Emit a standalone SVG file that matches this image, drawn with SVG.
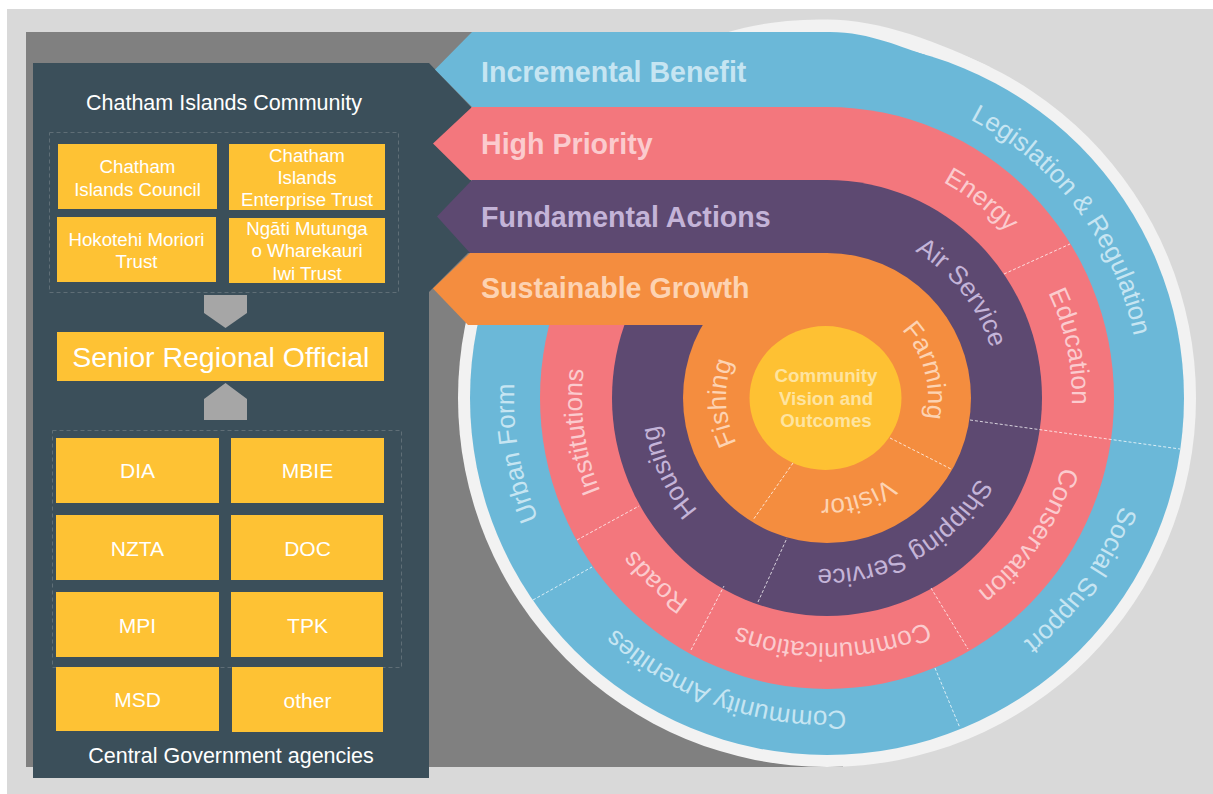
<svg xmlns="http://www.w3.org/2000/svg" width="1213" height="794" viewBox="0 0 1213 794">
<style>
text{font-family:"Liberation Sans",Arial,sans-serif}
.box{fill:#fec234}
.bt{fill:#fff;font-size:18.7px;text-anchor:middle}
.ag{fill:#fff;font-size:21px;text-anchor:middle}
.hd{fill:#fff;font-size:21.5px;text-anchor:middle}
.dash{fill:none;stroke:#5f6e76;stroke-width:1;stroke-dasharray:4 3}
.bn{font-size:28.6px;font-weight:bold}
.rl{font-size:26px;text-anchor:middle}
.sep{fill:none;stroke:#fff;stroke-opacity:.75;stroke-width:1;stroke-dasharray:3 2}
.arr{fill:#a6a6a6}
</style>
<defs>
<path id="pBlue" d="M827,85 A313,313 0 1,1 827,711 A313,313 0 1,1 827,85"/>
<path id="pPink" d="M827,153 A245,245 0 1,1 827,643 A245,245 0 1,1 827,153"/>
<path id="pPurple" d="M827,227 A171,171 0 1,1 827,569 A171,171 0 1,1 827,227"/>
<path id="pOrange" d="M827,297 A101,101 0 1,1 827,499 A101,101 0 1,1 827,297"/>
</defs>

<g id="background">
<rect x="7" y="9" width="1206" height="785" fill="#d9d9d9"/>
<rect x="26" y="32" width="817" height="735" fill="#808080"/>
</g>

<g id="wheel">
<circle cx="827" cy="398" r="369" fill="#f2f2f2"/>
<path d="M725,33 C760,22 795,19.5 827,19.5 C880,19.5 940,42.5 990,67 L990,110 L725,110 Z" fill="#f2f2f2"/>
<circle cx="827" cy="398" r="357" fill="#6bb8d8"/>
<ellipse cx="827" cy="398" rx="287" ry="291" fill="#f3777d"/>
<ellipse cx="827" cy="398" rx="215" ry="218" fill="#5d4971"/>
<ellipse cx="827" cy="398" rx="144" ry="145" fill="#f48d3f"/>
<ellipse cx="825.5" cy="398" rx="76" ry="72" fill="#fec133"/>
</g>

<g id="separators">
<line class="sep" x1="970" y1="420" x2="1180" y2="449"/>
<line class="sep" x1="1004" y1="274" x2="1070" y2="244"/>
<line class="sep" x1="931" y1="588" x2="968" y2="649"/>
<line class="sep" x1="935" y1="668" x2="960" y2="728"/>
<line class="sep" x1="691" y1="650" x2="724" y2="586"/>
<line class="sep" x1="577" y1="540" x2="639" y2="506"/>
<line class="sep" x1="533" y1="600" x2="592" y2="567"/>
<line class="sep" x1="758" y1="602" x2="787" y2="538"/>
<line class="sep" x1="890" y1="438" x2="951" y2="469"/>
<line class="sep" x1="793" y1="463" x2="753" y2="520"/>
</g>

<g id="ring-labels">
<text class="rl" fill="#c6e5f2"><textPath href="#pBlue" startOffset="288.7">Legislation &amp; Regulation</textPath></text>
<text class="rl" fill="#c6e5f2"><textPath href="#pBlue" startOffset="686.1">Social Support</textPath></text>
<text class="rl" fill="#c6e5f2"><textPath href="#pBlue" startOffset="1089.6">Community Amenities</textPath></text>
<text class="rl" fill="#c6e5f2"><textPath href="#pBlue" startOffset="1419.5">Urban Form</textPath></text>
<text class="rl" fill="#fbcbce"><textPath href="#pPink" startOffset="161.9">Energy</textPath></text>
<text class="rl" fill="#fbcbce"><textPath href="#pPink" startOffset="333.5">Education</textPath></text>
<text class="rl" fill="#fbcbce"><textPath href="#pPink" startOffset="530.9">Conservation</textPath></text>
<text class="rl" fill="#fbcbce"><textPath href="#pPink" startOffset="763.7">Communications</textPath></text>
<text class="rl" fill="#fbcbce"><textPath href="#pPink" startOffset="953.4">Roads</textPath></text>
<text class="rl" fill="#fbcbce"><textPath href="#pPink" startOffset="1120.6">Institutions</textPath></text>
<text class="rl" fill="#c4b4d8"><textPath href="#pPurple" startOffset="155">Air Service</textPath></text>
<text class="rl" fill="#c4b4d8"><textPath href="#pPurple" startOffset="449">Shipping Service</textPath></text>
<text class="rl" fill="#c4b4d8"><textPath href="#pPurple" startOffset="730.8">Housing</textPath></text>
<text class="rl" fill="#fdd3b2"><textPath href="#pOrange" startOffset="131.3">Farming</textPath></text>
<text class="rl" fill="#fdd3b2"><textPath href="#pOrange" startOffset="286.5">Visitor</textPath></text>
<text class="rl" fill="#fdd3b2"><textPath href="#pOrange" startOffset="470.3">Fishing</textPath></text>
</g>

<g id="center">
<text x="826" y="381.7" fill="#fee4a0" font-size="18.7" font-weight="bold" text-anchor="middle">Community</text>
<text x="826" y="405" fill="#fee4a0" font-size="18.7" font-weight="bold" text-anchor="middle">Vision and</text>
<text x="826" y="427.3" fill="#fee4a0" font-size="18.7" font-weight="bold" text-anchor="middle">Outcomes</text>
</g>

<g id="panel">
<polygon points="33,63 429,63 471,107 471,253 468,253 429,292 429,778 33,778" fill="#3b4f5a"/>
<text class="hd" x="224" y="110">Chatham Islands Community</text>
<rect class="dash" x="49.5" y="132.5" width="349" height="160"/>
</g>

<g id="banners">
<path id="banner-incremental" d="M472,32 L830,32 C870,32 905,49 925,54.7 L925,107 L472,107 L435,69.5 Z" fill="#6bb8d8"/>
<path id="banner-high" d="M472,107 L827,107 L827,180 L470,180 L433,143.5 Z" fill="#f3777d"/>
<path id="banner-fundamental" d="M472,180 L827,180 L827,253 L470,253 L437,216.5 Z" fill="#5d4971"/>
<path id="banner-sustainable" d="M470,253 L827,253 L827,325 L468,325 L433,288.5 Z" fill="#f48d3f"/>
<text class="bn" x="481" y="81.7" fill="#c6e5f2">Incremental Benefit</text>
<text class="bn" x="481" y="154.3" fill="#fbcbce">High Priority</text>
<text class="bn" x="481" y="226.7" fill="#c4b4d8">Fundamental Actions</text>
<text class="bn" x="481" y="298.3" fill="#fdd3b2">Sustainable Growth</text>
</g>

<g id="node-council"><rect class="box" x="58" y="144" width="159" height="65"/><text class="bt" x="137.5" y="173">Chatham</text><text class="bt" x="137.5" y="196">Islands Council</text></g>
<g id="node-enterprise"><rect class="box" x="229" y="144" width="156" height="66"/><text class="bt" x="307" y="162">Chatham</text><text class="bt" x="307" y="184">Islands</text><text class="bt" x="307" y="206">Enterprise Trust</text></g>
<g id="node-hokotehi"><rect class="box" x="57" y="217" width="159" height="65"/><text class="bt" x="136.5" y="246">Hokotehi Moriori</text><text class="bt" x="136.5" y="268">Trust</text></g>
<g id="node-ngati"><rect class="box" x="229" y="218" width="156" height="65"/><text class="bt" x="307" y="235">Ngāti Mutunga</text><text class="bt" x="307" y="257">o Wharekauri</text><text class="bt" x="307" y="280">Iwi Trust</text></g>

<g id="connectors">
<polygon class="arr" points="204,295 247,295 247,313 225.5,328 204,313"/>
<polygon class="arr" points="225.5,383 247,399 247,420 204,420 204,399"/>
</g>

<g id="node-sro"><rect class="box" x="57" y="332" width="327" height="49"/><text x="220.8" y="367" fill="#fff" font-size="28.5" text-anchor="middle">Senior Regional Official</text></g>

<g id="agencies">
<rect class="dash" x="52.5" y="430.5" width="349" height="237"/>
<g id="node-dia"><rect class="box" x="56" y="438" width="163" height="65"/><text class="ag" x="137.5" y="478">DIA</text></g>
<g id="node-mbie"><rect class="box" x="231" y="438" width="153" height="65"/><text class="ag" x="307.5" y="478">MBIE</text></g>
<g id="node-nzta"><rect class="box" x="56" y="515" width="163" height="65"/><text class="ag" x="137.5" y="556">NZTA</text></g>
<g id="node-doc"><rect class="box" x="231" y="515" width="152" height="65"/><text class="ag" x="307.5" y="556">DOC</text></g>
<g id="node-mpi"><rect class="box" x="56" y="592" width="163" height="65"/><text class="ag" x="137.5" y="633">MPI</text></g>
<g id="node-tpk"><rect class="box" x="231" y="592" width="152" height="65"/><text class="ag" x="307.5" y="633">TPK</text></g>
<g id="node-msd"><rect class="box" x="56" y="667" width="163" height="64"/><text class="ag" x="137.5" y="707">MSD</text></g>
<g id="node-other"><rect class="box" x="232" y="667" width="151" height="65"/><text class="ag" x="307.5" y="708">other</text></g>
<text class="hd" x="231" y="763">Central Government agencies</text>
</g>
</svg>
